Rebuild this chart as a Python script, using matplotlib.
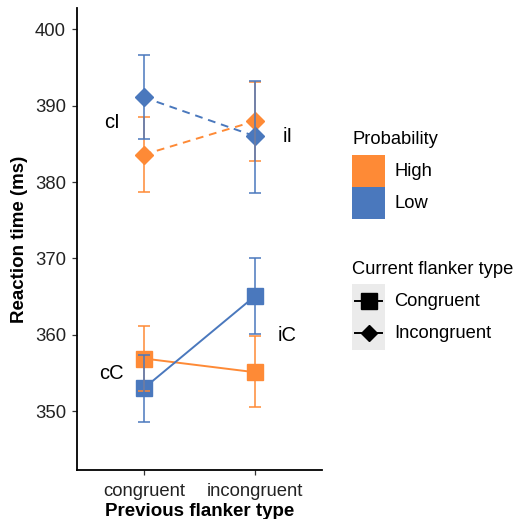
import matplotlib
matplotlib.use("Agg")
import matplotlib.pyplot as plt
from matplotlib.patches import Rectangle
from matplotlib.lines import Line2D

plt.rcParams['font.family'] = ['Liberation Sans', 'DejaVu Sans']

# data
prev_types = ["congruent", "incongruent"]
probabilities = ["High", "Low"]
colors = {"High": "#FE8A36", "Low": "#4A78BD"}

# current flanker: Congruent
cong_mean = {"High": [356.9, 355.1], "Low": [353.0, 365.1]}
cong_lo = {"High": [352.6, 350.5], "Low": [348.6, 360.1]}
cong_hi = {"High": [361.1, 359.8], "Low": [357.3, 370.0]}
# current flanker: Incongruent
incong_mean = {"High": [383.6, 388.0], "Low": [391.1, 386.0]}
incong_lo = {"High": [378.7, 382.8], "Low": [385.7, 378.6]}
incong_hi = {"High": [388.5, 393.1], "Low": [396.6, 393.2]}

cell_labels = ["cI", "iI", "cC", "iC"]
cell_label_x = [0.71, 2.29, 0.71, 2.29]
cell_label_y = [387.8, 386.0, 355.0, 359.9]

fig = plt.figure(figsize=(5.16, 5.19), dpi=100)
ax = fig.add_axes([77/516, 1 - 470/519, 245/516, 462/519])

x = [1, 2]
groups = [(cong_mean, cong_lo, cong_hi, 's', 12, '-'),
          (incong_mean, incong_lo, incong_hi, 'D', 8.8, '--')]

for means, lo, hi, mk, ms, ls in groups:
    for p in probabilities:
        ax.plot(x, means[p], color=colors[p], lw=1.4, ls=ls, dashes=(4, 3) if ls == '--' else (None, None), zorder=2)
for means, lo, hi, mk, ms, ls in groups:
    for p in probabilities:
        ax.plot(x, means[p], color=colors[p], lw=0, marker=mk, ms=ms, zorder=3)
for means, lo, hi, mk, ms, ls in groups:
    for p in probabilities:
        m = means[p]
        yerr = [[m[i] - lo[p][i] for i in range(2)], [hi[p][i] - m[i] for i in range(2)]]
        ax.errorbar(x, m, yerr=yerr, fmt='none', ecolor=colors[p], elinewidth=1.1,
                    capsize=4, capthick=1.1, zorder=4)

for t, tx, ty in zip(cell_labels, cell_label_x, cell_label_y):
    ax.text(tx, ty, t, fontsize=14.5, ha='center', va='center', color='black')

ax.set_xlim(0.4, 2.6)
ax.set_ylim(342.3, 402.8)
ax.set_xticks(x)
ax.set_xticklabels(prev_types)
ax.set_yticks([350, 360, 370, 380, 390, 400])
ax.tick_params(axis='both', labelsize=13.3, length=3.5, width=0.9, color='#333333', labelcolor='#222222')
ax.tick_params(axis='x', pad=6)
ax.tick_params(axis='y', pad=4.5)
ax.spines['top'].set_visible(False)
ax.spines['right'].set_visible(False)
ax.spines['left'].set_linewidth(1.3)
ax.spines['bottom'].set_linewidth(1.3)
ax.set_xlabel("Previous flanker type", fontsize=13.5, fontweight='bold', labelpad=2)
ax.set_ylabel("Reaction time (ms)", fontsize=13.5, fontweight='bold', labelpad=5)

# legend: Probability
W, H = 516, 519
def fx(px):
    return px / W
def fy(py):
    return 1 - py / H

fs_leg = 13.2
fig.text(fx(352), fy(140), "Probability", fontsize=fs_leg, va='center', ha='left')
for i, p in enumerate(probabilities):
    top = 155 + i * 32
    fig.patches.append(Rectangle((fx(352), fy(top + 32)), fx(33), 32 / H,
                                 transform=fig.transFigure, facecolor=colors[p], edgecolor='none'))
    fig.text(fx(394), fy(top + 16), p, fontsize=fs_leg, va='center', ha='left')

# legend: Current flanker type
fig.text(fx(352), fy(269), "Current flanker type", fontsize=fs_leg, va='center', ha='left')
fig.patches.append(Rectangle((fx(352), fy(350)), fx(33), 66 / H,
                             transform=fig.transFigure, facecolor='#EBEBEB', edgecolor='none'))
shape_names = ["Congruent", "Incongruent"]
shape_markers = [('s', 11), ('D', 8)]
for i, (name, (mk, ms)) in enumerate(zip(shape_names, shape_markers)):
    cy = 301 + i * 32
    fig.lines.append(Line2D([fx(355), fx(382)], [fy(cy), fy(cy)], transform=fig.transFigure,
                            color='black', lw=1.4, marker=None))
    fig.lines.append(Line2D([fx(368.5)], [fy(cy)], transform=fig.transFigure,
                            color='black', lw=0, marker=mk, ms=ms))
    fig.text(fx(394), fy(cy), name, fontsize=fs_leg, va='center', ha='left')

fig.savefig("out.png", dpi=100)
